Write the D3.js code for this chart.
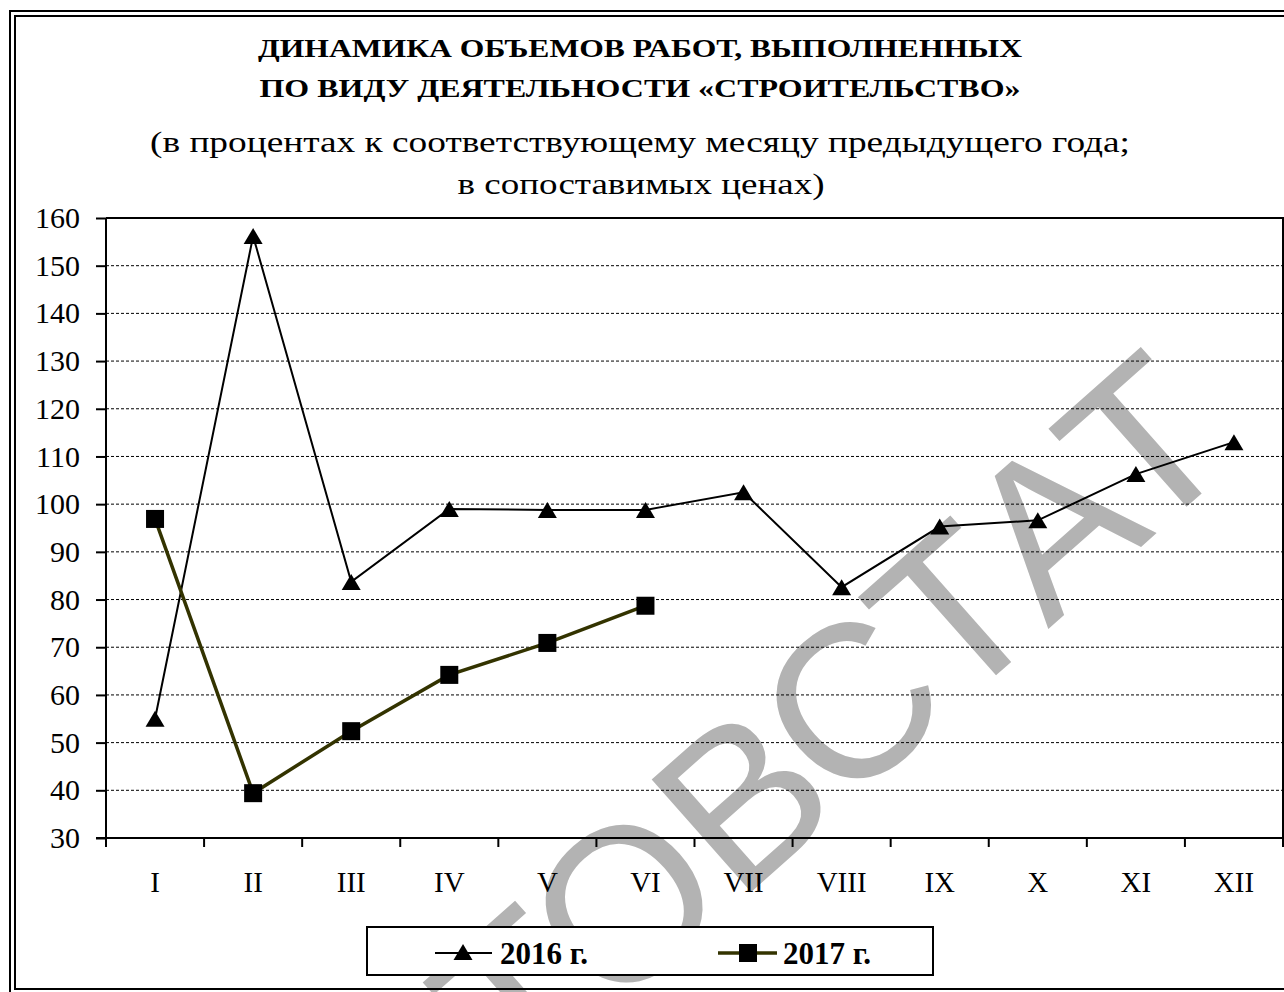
<!DOCTYPE html>
<html>
<head>
<meta charset="utf-8">
<script src="https://cdn.jsdelivr.net/npm/d3@7"></script>
<style>
  body { margin: 0; background: #fff; }
  svg { display: block; }
  text { font-family: "Times New Roman", "Liberation Serif", serif; fill: #000; }
</style>
</head>
<body>
<svg id="chart" width="1284" height="992"></svg>
<script>
// months on the x axis
var months = ["I", "II", "III", "IV", "V", "VI", "VII", "VIII", "IX", "X", "XI", "XII"];
// 2016 series (triangles)
var values2016 = [55, 156.2, 83.7, 99.0, 98.8, 98.8, 102.5, 82.6, 95.3, 96.6, 106.3, 113.0];
// 2017 series (squares), only first half of the year
var values2017 = [96.9, 39.4, 52.4, 64.2, 70.9, 78.7];
// y axis ticks
var yTicks = [30, 40, 50, 60, 70, 80, 90, 100, 110, 120, 130, 140, 150, 160];
var gridTicks = [40, 50, 60, 70, 80, 90, 100, 110, 120, 130, 140, 150];
var seriesNames = ["2016 г.", "2017 г."];

var titleLines = ["ДИНАМИКА ОБЪЕМОВ РАБОТ, ВЫПОЛНЕННЫХ", "ПО ВИДУ ДЕЯТЕЛЬНОСТИ «СТРОИТЕЛЬСТВО»"];
var subLines = ["(в процентах к соответствующему месяцу предыдущего года;", "в сопоставимых ценах)"];
// widths the title lines take in the picture (the original font is wider)
var titleWidths = [764, 761];
var subWidths = [980, 367];

var svg = d3.select("#chart");

// plot area edges (pixels)
var pLeft = 106, pRight = 1283, pTop = 218, pBottom = 838;

var x = d3.scaleBand().domain(months).range([pLeft, pRight]).paddingInner(0).paddingOuter(0);
var y = d3.scaleLinear().domain([30, 160]).range([pBottom, pTop]);
var cx = function(i) { return x(months[i]) + x.bandwidth() / 2; };

// watermark, sits under everything
svg.append("text")
    .attr("transform", "translate(1244,456) rotate(-41.5)")
    .attr("text-anchor", "end")
    .style("font-family", "'Liberation Sans', Arial, sans-serif")
    .style("font-size", "218px")
    .style("fill", "#b3b3b3")
    .text("РОСТОВСТАТ");

// double frame round the whole picture
svg.append("rect").attr("x", 10).attr("y", 11).attr("width", 1300).attr("height", 985)
    .attr("fill", "none").attr("stroke", "#000").attr("stroke-width", 2);
svg.append("rect").attr("x", 15).attr("y", 16).attr("width", 1300).attr("height", 973)
    .attr("fill", "none").attr("stroke", "#000").attr("stroke-width", 2);

// titles
svg.selectAll(".title").data(titleLines).enter().append("text")
    .attr("class", "title")
    .attr("x", 640).attr("y", function(d, i) { return 57 + i * 40; })
    .attr("text-anchor", "middle")
    .attr("textLength", function(d, i) { return titleWidths[i]; })
    .attr("lengthAdjust", "spacingAndGlyphs")
    .style("font-size", "26px").style("font-weight", "bold")
    .text(function(d) { return d; });

svg.selectAll(".sub").data(subLines).enter().append("text")
    .attr("class", "sub")
    .attr("x", function(d, i) { return i === 0 ? 640 : 641; })
    .attr("y", function(d, i) { return 152 + i * 42; })
    .attr("text-anchor", "middle")
    .attr("textLength", function(d, i) { return subWidths[i]; })
    .attr("lengthAdjust", "spacingAndGlyphs")
    .style("font-size", "30px")
    .text(function(d) { return d; });

// gridlines
svg.append("g").selectAll("line").data(gridTicks).enter().append("line")
    .attr("x1", pLeft).attr("x2", pRight)
    .attr("y1", function(d) { return y(d); }).attr("y2", function(d) { return y(d); })
    .attr("stroke", "#000").attr("stroke-width", 1).attr("stroke-dasharray", "3,2");

// plot border top and right
svg.append("path")
    .attr("d", "M" + pLeft + "," + pTop + "H" + pRight + "V" + pBottom)
    .attr("fill", "none").attr("stroke", "#000").attr("stroke-width", 2);

// y axis
var yAxis = svg.append("g")
    .attr("transform", "translate(" + pLeft + ",0)")
    .call(d3.axisLeft(y).tickValues(yTicks).tickSize(10).tickPadding(16).tickFormat(d3.format("d")));
yAxis.select(".domain").attr("stroke", "#000").attr("stroke-width", 2).attr("d", "M0," + pTop + "V" + pBottom);
yAxis.selectAll(".tick line").attr("stroke", "#000").attr("stroke-width", 2);
yAxis.selectAll("text")
    .style("font-family", "'Times New Roman', 'Liberation Serif', serif")
    .style("font-size", "30px").attr("fill", "#000");

// x axis: labels at band centres, ticks at band edges
var xAxis = svg.append("g")
    .attr("transform", "translate(0," + pBottom + ")")
    .call(d3.axisBottom(x).tickSize(0).tickPadding(33));
xAxis.select(".domain").attr("stroke", "#000").attr("stroke-width", 2).attr("d", "M" + (pLeft - 10) + ",0H" + pRight);
xAxis.selectAll("text")
    .style("font-family", "'Times New Roman', 'Liberation Serif', serif")
    .style("font-size", "29px").attr("fill", "#000");

var edges = months.map(function(m) { return x(m); }).concat([pRight]);
xAxis.selectAll(".edge").data(edges).enter().append("line")
    .attr("class", "edge")
    .attr("x1", function(d) { return d; }).attr("x2", function(d) { return d; })
    .attr("y1", 0).attr("y2", 9)
    .attr("stroke", "#000").attr("stroke-width", 2);

// lines
var line = d3.line()
    .x(function(d, i) { return cx(i); })
    .y(function(d) { return y(d); });

svg.append("path").datum(values2016)
    .attr("d", line).attr("fill", "none")
    .attr("stroke", "#000").attr("stroke-width", 2);

svg.append("path").datum(values2017)
    .attr("d", line).attr("fill", "none")
    .attr("stroke", "#333300").attr("stroke-width", 3.5);

// markers
var tri = "M0,-8L9.5,8L-9.5,8Z";
svg.append("g").selectAll("path").data(values2016).enter().append("path")
    .attr("d", tri)
    .attr("transform", function(d, i) { return "translate(" + cx(i) + "," + y(d) + ")"; })
    .attr("fill", "#000");

svg.append("g").selectAll("rect").data(values2017).enter().append("rect")
    .attr("x", function(d, i) { return cx(i) - 9; })
    .attr("y", function(d) { return y(d) - 9; })
    .attr("width", 18).attr("height", 18)
    .attr("fill", "#000");

// legend
var legend = svg.append("g");
legend.append("rect").attr("x", 367).attr("y", 927).attr("width", 566).attr("height", 48)
    .attr("fill", "#fff").attr("stroke", "#000").attr("stroke-width", 2);

legend.append("line").attr("x1", 435).attr("x2", 492).attr("y1", 953).attr("y2", 953)
    .attr("stroke", "#000").attr("stroke-width", 2);
legend.append("path").attr("d", tri).attr("transform", "translate(463,952)").attr("fill", "#000");

legend.append("line").attr("x1", 718).attr("x2", 777).attr("y1", 953).attr("y2", 953)
    .attr("stroke", "#333300").attr("stroke-width", 3.5);
legend.append("rect").attr("x", 739).attr("y", 944).attr("width", 18).attr("height", 18).attr("fill", "#000");

legend.selectAll(".lt").data(seriesNames).enter().append("text")
    .attr("class", "lt")
    .attr("x", function(d, i) { return i === 0 ? 500 : 783; })
    .attr("y", 964)
    .style("font-size", "31px").style("font-weight", "bold")
    .text(function(d) { return d; });
</script>
</body>
</html>
